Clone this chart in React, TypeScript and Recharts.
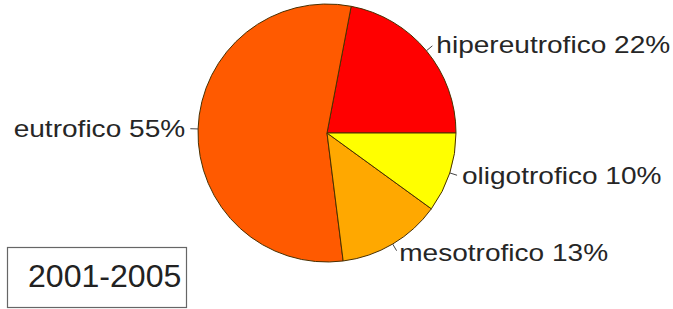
import React from "react";
import { PieChart, Pie, Cell } from "recharts";

const categories = ["hipereutrofico", "eutrofico", "mesotrofico", "oligotrofico"];
const values = [22, 55, 13, 10];
const colors = ["#FF0000", "#FF5A00", "#FFA800", "#FFFF00"];
const periodLabel = "2001-2005";

const data = categories.map((name, i) => ({ name, value: values[i] }));

const RAD = Math.PI / 180;

const renderLabel = (props: any) => {
  const { cx, cy, midAngle, outerRadius, name, value } = props;
  const c = Math.cos(-midAngle * RAD);
  const s = Math.sin(-midAngle * RAD);
  const x1 = cx + outerRadius * c;
  const y1 = cy + outerRadius * s;
  const x2 = cx + outerRadius * 1.06 * c;
  const y2 = cy + outerRadius * 1.06 * s;
  const tx = cx + outerRadius * 1.1 * c;
  const ty = cy + outerRadius * 1.08 * s;
  const anchor = c >= 0 ? "start" : "end";
  return (
    <g>
      <line x1={x1} y1={y1} x2={x2} y2={y2} stroke="#444" strokeWidth={1} />
      <g transform={`translate(${tx},${ty}) scale(1.22,1)`}>
        <text
          x={0}
          y={8.3}
          textAnchor={anchor}
          fontFamily="'Liberation Sans', Arial, sans-serif"
          fontSize={23}
          fill="#262626"
        >
          {`${name} ${value}%`}
        </text>
      </g>
    </g>
  );
};

export default function App() {
  return (
    <div style={{ position: "absolute", left: 0, top: 0, width: 673, height: 309, background: "#fff" }}>
      <PieChart width={673} height={309} margin={{ top: 0, right: 0, bottom: 0, left: 0 }}>
        <Pie
          data={data}
          dataKey="value"
          nameKey="name"
          cx={327}
          cy={133}
          outerRadius={129}
          startAngle={0}
          endAngle={360}
          stroke="#4a3000"
          strokeWidth={1}
          label={renderLabel}
          labelLine={false}
          isAnimationActive={false}
        >
          {data.map((d, i) => (
            <Cell key={d.name} fill={colors[i]} />
          ))}
        </Pie>
      </PieChart>
      <svg
        width={673}
        height={309}
        style={{ position: "absolute", left: 0, top: 0, pointerEvents: "none" }}
      >
        <rect x={7.5} y={247.5} width={179} height={60} fill="#fff" stroke="#666" strokeWidth={1.2} />
        <g transform="translate(28,287) scale(1.035,1)">
          <text
            x={0}
            y={0}
            fontFamily="'Liberation Sans', Arial, sans-serif"
            fontSize={31}
            fill="#222"
          >
            {periodLabel}
          </text>
        </g>
      </svg>
    </div>
  );
}
